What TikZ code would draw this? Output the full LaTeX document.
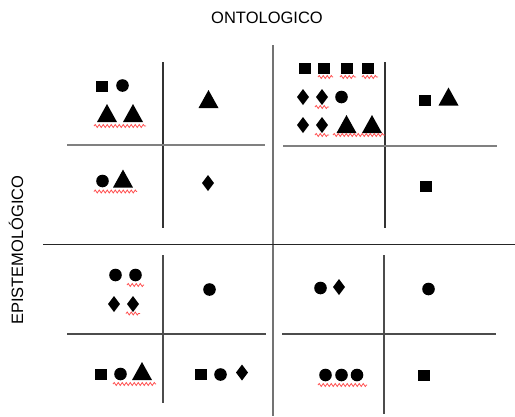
\documentclass[tikz,border=0pt]{standalone}
\usepackage{fontspec}
\setmainfont{Liberation Sans}
\usetikzlibrary{decorations.pathmorphing}
\begin{document}
\begin{tikzpicture}[x=1pt,y=-1pt,
  mainv/.style={draw=black!55,line width=1.8pt},
  mainh/.style={draw=black!85,line width=1.3pt},
  toph/.style={draw=black!50,line width=2pt},
  topv/.style={draw=black!80,line width=1.2pt},
  botl/.style={draw=black!70,line width=1.4pt},
  wavy/.style={draw=red!70!white,line width=0.8pt,decorate,decoration={snake,segment length=4pt,amplitude=1.5pt}},
  lbl/.style={inner sep=0pt,font=\fontsize{16.5}{18}\selectfont},
  sqr/.pic={\fill (-6,-5.5) rectangle (6,5.5);},
  dot/.pic={\fill (0,0) circle (6.3);},
  tri/.pic={\fill (-10,9) -- (10,9) -- (0,-9) -- cycle;},
  dia/.pic={\fill (0,-8) -- (6,0) -- (0,8) -- (-6,0) -- cycle;}
]
\useasboundingbox (0,0) rectangle (515,416);
% labels
\node[lbl] (onto) at (267,18) {ONTOLOGICO};
\node[lbl,rotate=90] (epis) at (16,250) {EPISTEMOLÓGICO};
% main axes
\draw[mainv] (273,45) -- (273,416);
\draw[mainh] (43,244.5) -- (515,244.5);
% top-left quadrant
\draw[topv] (163,62) -- (163,228);
\draw[toph] (67,145) -- (265,145);
% top-right quadrant
\draw[topv] (385,62) -- (385,228);
\draw[toph] (283,146) -- (497,146);
% bottom-left quadrant
\draw[botl] (163,255) -- (163,403);
\draw[botl] (67,334) -- (266,334);
% bottom-right quadrant
\draw[botl] (384,255) -- (384,414);
\draw[botl] (282,334) -- (496,334);

% ---- TL quadrant
\pic at (101.5,86.5) {sqr}; \pic at (122.5,85.5) {dot};
\pic at (107,113) {tri}; \pic at (133,113) {tri};
\draw[wavy] (94,126) -- (146,126);
\pic at (208.5,99) {tri};
\pic at (102.5,181) {dot}; \pic at (123,178.5) {tri};
\draw[wavy] (94,191.5) -- (137,191.5);
\pic at (208,183) {dia};

% ---- TR quadrant
\pic at (304.5,68.5) {sqr}; \pic at (324,68.5) {sqr};
\pic at (346.5,68.5) {sqr}; \pic at (368,68.5) {sqr};
\draw[wavy] (318,77) -- (333,77);
\draw[wavy] (340,77) -- (356,77);
\draw[wavy] (362,77) -- (378,77);
\pic at (303,97) {dia}; \pic at (322,97) {dia}; \pic at (341.5,97) {dot};
\draw[wavy] (315,107) -- (329,107);
\pic at (303,125) {dia}; \pic at (322,125) {dia};
\pic at (346.5,124) {tri}; \pic at (372,124) {tri};
\draw[wavy] (315,135) -- (329,135);
\draw[wavy] (333,135) -- (385,135);
\pic at (424.5,100) {sqr}; \pic at (448.5,96.5) {tri};
\pic at (425.5,186) {sqr};

% ---- BL quadrant
\pic at (115.5,275) {dot}; \pic at (135.5,275) {dot};
\draw[wavy] (127,285) -- (144,285);
\pic at (114,304) {dia}; \pic at (133,304) {dia};
\draw[wavy] (126,313.5) -- (140,313.5);
\pic at (209.5,289.5) {dot};
\pic at (100.5,374.5) {sqr}; \pic at (120.5,374) {dot}; \pic at (142,371) {tri};
\draw[wavy] (113,384) -- (156,384);
\pic at (200.5,374.5) {sqr}; \pic at (220.5,374.5) {dot}; \pic at (242,372.5) {dia};

% ---- BR quadrant
\pic at (320.5,288) {dot}; \pic at (339,287) {dia};
\pic at (428.5,289) {dot};
\pic at (325.5,375) {dot}; \pic at (341.5,375) {dot}; \pic at (357,375) {dot};
\draw[wavy] (318,385) -- (367,385);
\pic at (424,375) {sqr};
\end{tikzpicture}
\end{document}
